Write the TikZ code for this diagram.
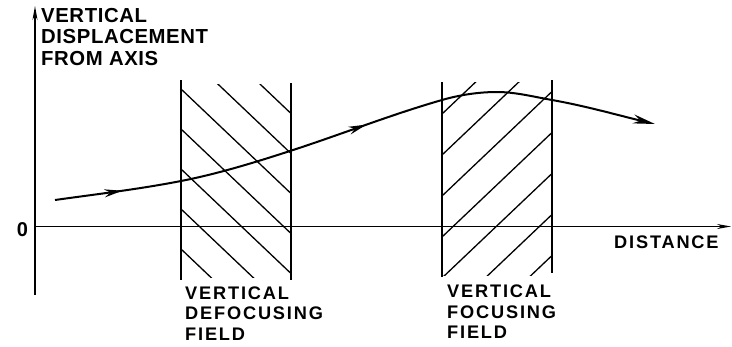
\documentclass[tikz,border=0pt]{standalone}
\usepackage{fontspec}
\setmainfont{Liberation Sans}
\newfontfamily\lblA[LetterSpace=3]{Liberation Sans}
\newfontfamily\lblB[LetterSpace=10]{Liberation Sans}
\usetikzlibrary{arrows.meta,decorations.markings}
\tikzset{
  axisline/.style={line width=1.5pt},
  fieldedge/.style={line width=1.8pt},
  hatchline/.style={line width=1.3pt},
  orbit/.style={line width=2pt},
  toplbl/.style={inner sep=0pt, align=left, font=\lblA\bfseries\fontsize{20.3}{21.5}\selectfont},
  botlbl/.style={inner sep=0pt, align=left, font=\lblB\bfseries\fontsize{18.2}{20.5}\selectfont},
  axtip/.style={-{Stealth[length=14pt,width=5pt]}},
}
\begin{document}
\begin{tikzpicture}[x=1pt,y=-1pt]
\useasboundingbox (0,0) rectangle (732,346);

% axes
\coordinate (yb) at (35,295);
\coordinate (yt) at (35,6);
\coordinate (xl) at (35,226.5);
\coordinate (xr) at (731,226.5);
\draw[axisline,axtip] (yb) -- (yt);
\draw[axisline,axtip] (xl) -- (xr);

% defocusing field hatch
\begin{scope}
  \clip (181,84) rectangle (291,277);
  \foreach \c in {9,49,89,129,169,209,249}
    \draw[hatchline] (131,\c-47.5) -- ++(180,171);
\end{scope}
\coordinate (d1a) at (181,80);  \coordinate (d1b) at (181,280);
\coordinate (d2a) at (291,83);  \coordinate (d2b) at (291,280);
\draw[fieldedge] (d1a) -- (d1b);
\draw[fieldedge] (d2a) -- (d2b);

% focusing field hatch
\begin{scope}
  \clip (442,82) rectangle (552,275);
  \foreach \c in {114,155,196,237,278,319,360}
    \draw[hatchline] (392,\c+47.5) -- ++(180,-171);
\end{scope}
\coordinate (f1a) at (442,82);  \coordinate (f1b) at (442,277);
\coordinate (f2a) at (552,80);  \coordinate (f2b) at (552,273);
\draw[fieldedge] (f1a) -- (f1b);
\draw[fieldedge] (f2a) -- (f2b);

% trajectory
\coordinate (t0) at (55,200);
\coordinate (t1) at (181,181);
\coordinate (t2) at (290,151);
\coordinate (t3) at (442,100);
\coordinate (t4) at (497,92);
\coordinate (t5) at (552,100);
\coordinate (t6) at (655,124);
\draw[orbit,-{Stealth[length=22pt,width=9pt]},
  postaction={decorate},
  decoration={markings,
    mark=at position 0.11 with {\arrow{Stealth[length=18pt,width=8pt]}},
    mark=at position 0.52 with {\arrow{Stealth[length=18pt,width=8pt]}}}]
  (t0) .. controls (97,194.1) and (139,189.2) .. (t1)
       .. controls (217,174) and (254,162.7) .. (t2)
       .. controls (341,134.5) and (391,114.6) .. (t3)
       .. controls (460,94.8) and (479,92) .. (t4)
       .. controls (515,92) and (534,96.8) .. (t5)
       .. controls (586,106) and (621,116) .. (t6);

% labels
\node[toplbl, anchor=north west] (ylab) at (41,8) {VERTICAL\\DISPLACEMENT\\FROM AXIS};
\node[inner sep=0pt, font=\bfseries\fontsize{20}{22}\selectfont, anchor=center] (zero) at (22.5,230) {0};
\node[botlbl, anchor=base west] (xlab) at (614,248) {DISTANCE};
\node[botlbl, anchor=north west] (dlab) at (185,286.5) {VERTICAL\\DEFOCUSING\\FIELD};
\node[botlbl, anchor=north west] (flab) at (447,285) {VERTICAL\\FOCUSING\\FIELD};
\end{tikzpicture}
\end{document}
